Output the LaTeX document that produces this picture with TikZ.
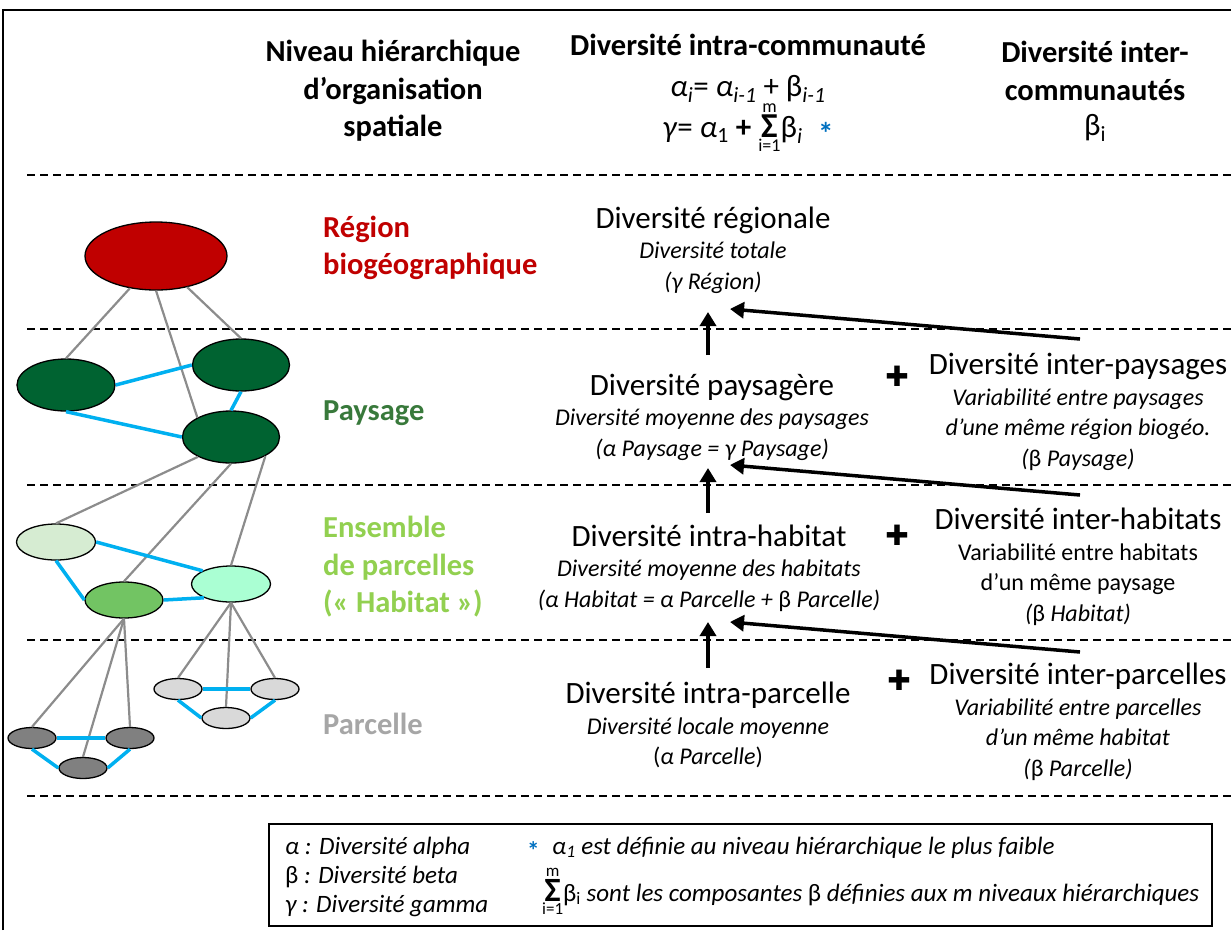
\documentclass[tikz,border=0pt]{standalone}
\usepackage{fontspec}
\setmainfont{Carlito}
\newfontfamily\symbfont{DejaVu Sans}
\usetikzlibrary{shapes.geometric,arrows.meta}

\definecolor{rouge}{HTML}{C00000}
\definecolor{vertfonce}{HTML}{006331}
\definecolor{vertpay}{HTML}{38793B}
\definecolor{vertclair}{HTML}{92D050}
\definecolor{habclair}{HTML}{D6ECD2}
\definecolor{habmoyen}{HTML}{72C463}
\definecolor{habmenthe}{HTML}{AAFFD3}
\definecolor{grisfonce}{HTML}{808080}
\definecolor{grisclair}{HTML}{D9D9D9}
\definecolor{gristexte}{HTML}{A6A6A6}
\definecolor{grislien}{HTML}{8C8C8C}
\definecolor{bleulien}{HTML}{00B0F0}
\definecolor{bleuast}{HTML}{0070C0}

\newcommand{\fs}[1]{\fontsize{#1}{#1}\selectfont}
% somme de i=1 a m, limites en texte (#1 : limites, #2 : signe)
\newcommand{\sommeim}[2]{{\fs{6}$\mathop{\hbox{\upshape\bfseries\fs{#2}Σ}}\limits^{\hbox{\upshape\fs{#1}m}}_{\hbox{\upshape\fs{#1}i=1}}$}}
\newcommand{\asterisque}[1]{\raisebox{#1}{\upshape\bfseries\color{bleuast}*}}

\begin{document}
\begin{tikzpicture}[x=1pt, y=-1pt,
        entete/.style={align=center, font=\bfseries\fontsize{30.5}{37.5}\selectfont},
        niveau/.style={anchor=west, align=left, inner sep=0, font=\bfseries\fontsize{30.5}{37.5}\selectfont},
        intra/.style={align=center, inner sep=0, font=\fontsize{24}{30.5}\selectfont},
        legende/.style={anchor=base west, inner sep=0, font=\itshape\fontsize{25}{25}\selectfont},
        patch/.style={ellipse, draw=black, line width=1.3pt, inner sep=0},
        lien/.style={draw=grislien, line width=2.2pt},
        voisin/.style={draw=bleulien, line width=3.5pt},
        limite/.style={line width=2pt, dash pattern=on 8pt off 5pt},
        fleche/.style={line width=3.5pt, -{Triangle[length=14pt,width=16pt]}},
        plus/.style={font=\symbfont\fontsize{28}{28}\selectfont, inner sep=0},
        ]
        \useasboundingbox (0,0) rectangle (1231,930);
        % cadre (coupe a droite et en bas)
        \draw[line width=2.5pt] (3,930) -- (3,10) -- (1231,10);
        % limites entre niveaux
        \foreach \y in {175,329,485,640,796} {
            \draw[limite] (27,\y) -- (1231,\y);
        }

        % En-tetes
        \node[entete] (hNiv) at (393,91) {Niveau hiérarchique\\d’organisation\\spatiale};
        \node[entete, anchor=base] (hIntra) at (748,55) {Diversité intra-communauté};
        \node[anchor=base, font=\fs{31}] (hFormA) at (748,96)
            {\textit{α\textsubscript{i}}= \textit{α\textsubscript{i-1}} + β\textsubscript{\itshape i-1}};
        \node[anchor=base, font=\fs{31}] (hFormB) at (748,137)
            {\textit{γ}= \textit{α}\textsubscript{1} \textbf{+} \sommeim{18}{35}β\textsubscript{\itshape i}\enspace\asterisque{-7pt}};
        \node[entete] (hInter) at (1095,71) {Diversité inter-\\communautés};
        \node[font=\fs{31}] (hBeta) at (1095,128) {β\textsubscript{i}};

        % Niveaux hierarchiques
        \node[niveau, text=rouge] (nReg) at (323,248) {Région\\biogéographique};
        \node[niveau, text=vertpay] (nPay) at (323,413) {Paysage};
        \node[niveau, text=vertclair] (nHab) at (323,567) {Ensemble\\de parcelles\\(« Habitat »)};
        \node[niveau, text=gristexte] (nPar) at (323,724) {Parcelle};

        % Taches emboitees
        \node[patch, fill=rouge, minimum width=142, minimum height=68] (regE) at (156,256) {};
        \node[patch, fill=vertfonce, minimum width=98, minimum height=52] (payA) at (66,385) {};
        \node[patch, fill=vertfonce, minimum width=97, minimum height=52] (payB) at (241,365) {};
        \node[patch, fill=vertfonce, minimum width=97, minimum height=52] (payC) at (231,437) {};
        \node[patch, fill=habclair, minimum width=79, minimum height=36] (habA) at (56,542) {};
        \node[patch, fill=habmoyen, minimum width=78, minimum height=36] (habB) at (124,600) {};
        \node[patch, fill=habmenthe, minimum width=79, minimum height=36] (habC) at (231,584) {};
        \foreach \n/\x/\y in {1/32/738, 2/130/738, 3/83/768} {
            \node[patch, fill=grisfonce, minimum width=48, minimum height=21] (parA\n) at (\x,\y) {};
        }
        \foreach \n/\x/\y in {1/178/689, 2/275/689, 3/226/718} {
            \node[patch, fill=grisclair, minimum width=48, minimum height=21] (parB\n) at (\x,\y) {};
        }

        % liens d'emboitement
        \draw[lien] (regE.231) -- (payA.north);
        \draw[lien] (regE.south) -- (payC.150);
        \draw[lien] (regE.315) -- (payB.north);
        \draw[lien] (payC.211) -- (habA.north);
        \draw[lien] (payC.south) -- (habB.north);
        \draw[lien] (payC.331) -- (habC.north);
        \foreach \n in {1,2,3} {
            \draw[lien] (habB.south) -- (parA\n.north);
            \draw[lien] (habC.south) -- (parB\n.north);
        }
        % liens de voisinage
        \draw[voisin] (payA.east) -- (payB.west);
        \draw[voisin] (payA.south) -- (payC.west);
        \draw[voisin] (payB.south) -- (payC.north);
        \draw[voisin] (habA.east) -- (habC.155);
        \draw[voisin] (habA.south) -- (habB.west);
        \draw[voisin] (habB.east) -- (habC.207);
        \draw[voisin] (parA1.east) -- (parA2.west);
        \draw[voisin] (parA1.south) -- (parA3.west);
        \draw[voisin] (parA2.south) -- (parA3.east);
        \draw[voisin] (parB1.east) -- (parB2.west);
        \draw[voisin] (parB1.south) -- (parB3.west);
        \draw[voisin] (parB2.south) -- (parB3.east);

        % Diversite intra-communaute
        \node[intra] (tReg) at (713,250) {{\fs{31}Diversité régionale}\\\textit{Diversité totale}\\\textit{(γ Région)}};
        \node[intra] (tPay) at (712,417) {{\fs{31}Diversité paysagère}\\\textit{Diversité moyenne des paysages}\\\textit{(α Paysage = γ Paysage)}};
        \node[intra] (tHab) at (709,568) {{\fs{31}Diversité intra-habitat}\\\textit{Diversité moyenne des habitats}\\\textit{(α Habitat = α Parcelle +} β \textit{Parcelle)}};
        \node[intra] (tPar) at (708,725) {{\fs{31}Diversité intra-parcelle}\\\textit{Diversité locale moyenne}\\(\textit{α Parcelle})};

        % Diversite inter-communautes
        \node[intra] (ePay) at (1078,412) {{\fs{31}Diversité inter-paysages}\\\textit{Variabilité entre paysages}\\\textit{d’une même région biogéo.}\\\textit{(}β \textit{Paysage)}};
        \node[intra] (eHab) at (1078,567) {{\fs{31}Diversité inter-habitats}\\Variabilité entre habitats\\d’un même paysage\\\textit{(}β \textit{Habitat)}};
        \node[intra] (ePar) at (1078,722) {{\fs{31}Diversité inter-parcelles}\\\textit{Variabilité entre parcelles}\\\textit{d’un même habitat}\\\textit{(}β \textit{Parcelle)}};

        \node[plus] (plusPay) at (897,376) {✚};
        \node[plus] (plusHab) at (897,535) {✚};
        \node[plus] (plusPar) at (899,680) {✚};

        % fleches
        \coordinate (vPayB) at (708,355); \coordinate (vPayH) at (708,312);
        \coordinate (vHabB) at (708,513); \coordinate (vHabH) at (708,468);
        \coordinate (vParB) at (708,668); \coordinate (vParH) at (708,622);
        \draw[fleche] (vPayB) -- (vPayH);
        \draw[fleche] (vHabB) -- (vHabH);
        \draw[fleche] (vParB) -- (vParH);
        \coordinate (dPayB) at (1080,339); \coordinate (dPayH) at (730,309);
        \coordinate (dHabB) at (1080,495); \coordinate (dHabH) at (730,465);
        \coordinate (dParB) at (1080,652); \coordinate (dParH) at (730,622);
        \draw[fleche] (dPayB) -- (dPayH);
        \draw[fleche] (dHabB) -- (dHabH);
        \draw[fleche] (dParB) -- (dParH);

        % Legende
        \draw[line width=1.5pt] (269,824) rectangle (1212,926);
        \node[legende] (lAlpha) at (285,854) {α : Diversité alpha};
        \node[legende] (lBeta) at (285,883) {{\upshape β} : Diversité beta};
        \node[legende] (lGamma) at (285,912) {γ : Diversité gamma};
        \node[legende] (lAst) at (527,854) {\asterisque{-5pt}\enspace α\textsubscript{1} est définie au niveau hiérarchique le plus faible};
        \node[legende] (lSomme) at (542,901) {\sommeim{17}{34}{\upshape β\textsubscript{i}} sont les composantes {\upshape β} définies aux m niveaux hiérarchiques};
\end{tikzpicture}
\end{document}
